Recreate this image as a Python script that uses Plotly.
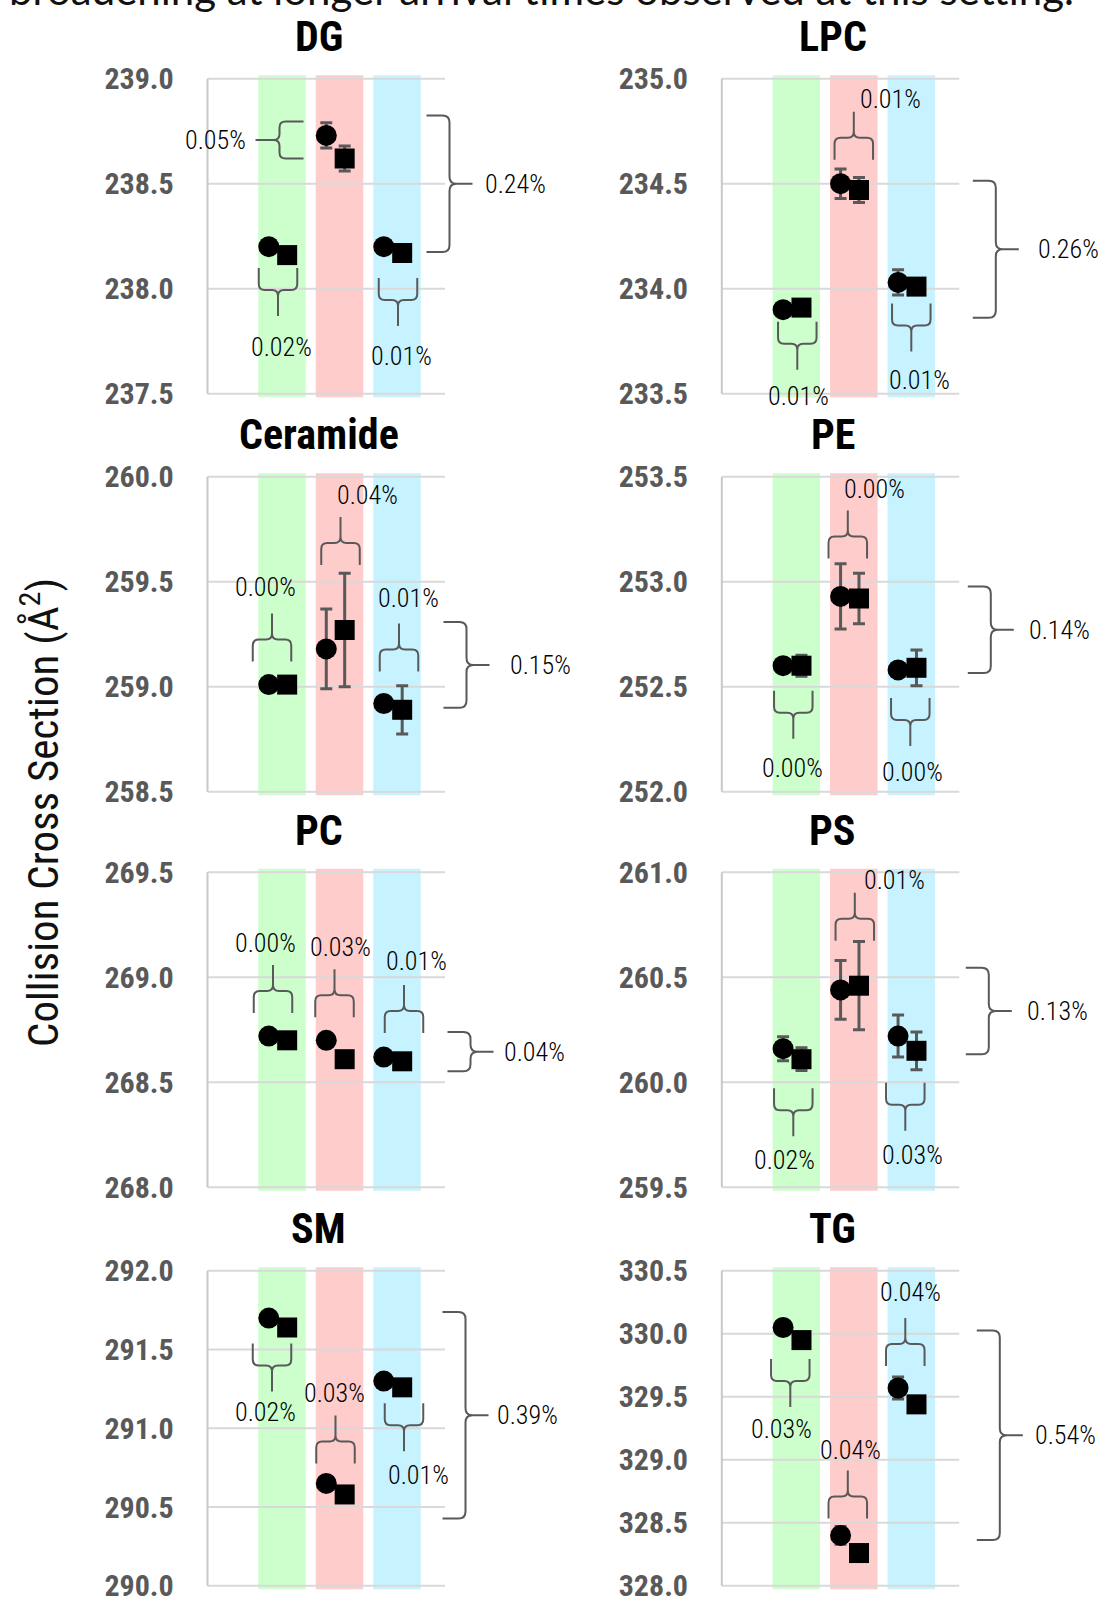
import plotly.graph_objects as go

# ---------------------------------------------------------------- data ---
lipid_classes = ["DG", "LPC", "Ceramide", "PE", "PC", "PS", "SM", "TG"]
axis_min = [237.5, 233.5, 258.5, 252.0, 268.0, 259.5, 290.0, 328.0]
axis_max = [239.0, 235.0, 260.0, 253.5, 269.5, 261.0, 292.0, 330.5]

# mean CCS per setting (green, red, blue) for the two replicate series
ccs_circle = [
    [238.20, 238.73, 238.20],
    [233.90, 234.50, 234.03],
    [259.01, 259.18, 258.92],
    [252.60, 252.93, 252.58],
    [268.72, 268.70, 268.62],
    [260.16, 260.44, 260.22],
    [291.70, 290.65, 291.30],
    [330.05, 328.40, 329.57],
]
ccs_square = [
    [238.16, 238.62, 238.17],
    [233.91, 234.47, 234.01],
    [259.01, 259.27, 258.89],
    [252.60, 252.92, 252.59],
    [268.70, 268.61, 268.60],
    [260.11, 260.46, 260.15],
    [291.64, 290.58, 291.26],
    [329.95, 328.26, 329.44],
]
sd_circle = [
    [0.02, 0.06, 0.02],
    [0.02, 0.07, 0.06],
    [0.02, 0.19, 0.03],
    [0.02, 0.155, 0.02],
    [0.01, 0.01, 0.01],
    [0.057, 0.14, 0.10],
    [0.02, 0.02, 0.02],
    [0.03, 0.07, 0.087],
]
sd_square = [
    [0.02, 0.06, 0.02],
    [0.02, 0.06, 0.03],
    [0.02, 0.27, 0.115],
    [0.05, 0.12, 0.085],
    [0.01, 0.01, 0.01],
    [0.054, 0.21, 0.09],
    [0.02, 0.02, 0.02],
    [0.03, 0.03, 0.03],
]
# relative difference between the two series within each setting
pair_rsd = [
    ["0.02%", "0.05%", "0.01%"],
    ["0.01%", "0.01%", "0.01%"],
    ["0.00%", "0.04%", "0.01%"],
    ["0.00%", "0.00%", "0.00%"],
    ["0.00%", "0.03%", "0.01%"],
    ["0.02%", "0.01%", "0.03%"],
    ["0.02%", "0.03%", "0.01%"],
    ["0.03%", "0.04%", "0.04%"],
]
# spread across all three settings
overall_rsd = ["0.24%", "0.26%", "0.15%", "0.14%", "0.04%", "0.13%", "0.39%", "0.54%"]

# ------------------------------------------------------------- layout ---
W, H = 1100, 1598
UNIT = 57.5                     # px between neighbouring settings
GRID_H = 315.0                  # px height of the gridded area
COL_SPINE = [207.5, 721.8]      # px position of the left spine per column
ROW_TOP = [78.7, 476.7, 872.3, 1270.8]
X_RANGE = [-0.5, 5.1]
X_SPINE = 1 - 74.5 / UNIT
X_GRID_END = X_SPINE + 237.5 / UNIT
Y_PAD = 0.02
BAND_HALF = 47.5 / 2 / UNIT
BAND_OVER = 3.5
MARK_DX = (-0.23, 0.09)
ARM, TIP, RAD = 22, 48, 6
BIG_ARM, BIG_TIP, BIG_RAD = 23, 46, 7
HALF_W = 19.25

BAND_COLORS = ["#CCFFCC", "#FFCCCC", "#C6F3FF"]
INK = "#595959"
GRID = "#D9D9D9"
NARROW = ("Roboto Condensed, Liberation Sans Narrow, DejaVu Sans Condensed, "
          "Arial Narrow, Roboto, sans-serif")

# placement of the per-setting braces:
# (side, gap px from marker centre, brace x shift px, label x shift px, label gap px)
pair_brace_layout = [
    [("below", 13, -4, 3, 31), ("left", 14, -36, 0, 8), ("below", 25, 1, 3, 30)],
    [("below", 12, 1, 1, 26), ("above", 24, 0, 37, 13), ("below", 17, 0, 8, 28)],
    [("above", 23, -10, -7, 27), ("above", 65, 1, 27, 22), ("above", 32, 2, 9, 25)],
    [("below", 25, -3, -1, 29), ("above", 38, -6, 27, 21), ("below", 28, -1, 2, 26)],
    [("above", 23, -9, -8, 22), ("above", 23, -5, 6, 22), ("above", 24, 7, 12, 24)],
    [("below", 29, -3, -9, 24), ("above", 45, 1, 40, 13), ("below", 32, -6, 7, 24)],
    [("below", 16, -10, -7, 20), ("above", 20, -4, -1, 22), ("below", 16, 7, 14, 24)],
    [("below", 19, -6, -9, 22), ("above", 17, -6, 3, 20), ("above", 22, -6, 5, 26)],
]
# overall brace: (arm x px from spine, label x px from spine, pad above px, pad below px)
overall_brace_layout = [
    (219, 275, 20, -3),
    (251, 314, 3, 8),
    (236, 300, 8, -2),
    (246, 305, 10, 3),
    (240, 294, 4, 10),
    (244, 303, 18, -5),
    (235, 287, 6, 24),
    (255, 311, -3, -13),
]


def brace_path(u0, u1, va, vs, vt, to_data, r):
    s = 1 if vs > va else -1
    um = (u0 + u1) / 2
    seq = [
        ("M", (u0, va)),
        ("L", (u0, vs - s * r)),
        ("Q", (u0, vs), (u0 + r, vs)),
        ("L", (um - r, vs)),
        ("Q", (um, vs), (um, vs + s * r)),
        ("L", (um, vt)),
        ("M", (um, vs + s * r)),
        ("Q", (um, vs), (um + r, vs)),
        ("L", (u1 - r, vs)),
        ("Q", (u1, vs), (u1, vs - s * r)),
        ("L", (u1, va)),
    ]
    out = []
    for cmd, *pts in seq:
        out.append(cmd + " ".join("%.6f,%.6f" % to_data(u, v) for u, v in pts))
    return " ".join(out)


fig = go.Figure()
shapes, annotations = [], []
label_font = dict(family=NARROW, size=26, color="#000000", weight=300)

for k, name in enumerate(lipid_classes):
    row, col = divmod(k, 2)
    n = "" if k == 0 else str(k + 1)
    xr, yr = "x" + n, "y" + n
    lo, hi = axis_min[k], axis_max[k]
    span = hi - lo
    ypp = span / GRID_H  # data units per px

    left_px = COL_SPINE[col] - (X_SPINE - X_RANGE[0]) * UNIT
    right_px = left_px + (X_RANGE[1] - X_RANGE[0]) * UNIT
    top_px = ROW_TOP[row] - Y_PAD * GRID_H
    bot_px = ROW_TOP[row] + GRID_H + Y_PAD * GRID_H

    ticks = []
    v = lo
    while v <= hi + 1e-9:
        ticks.append(round(v, 2))
        v += 0.5

    fig.update_layout({
        "xaxis" + n: dict(domain=[left_px / W, right_px / W], range=X_RANGE,
                          visible=False, fixedrange=True, anchor=yr, automargin=False),
        "yaxis" + n: dict(domain=[1 - bot_px / H, 1 - top_px / H],
                          range=[lo - Y_PAD * span, hi + Y_PAD * span],
                          anchor=xr, showgrid=False, zeroline=False, showline=False,
                          tickvals=ticks, ticktext=["%.1f" % t for t in ticks],
                          ticks="", ticklabelstandoff=21, automargin=False,
                          ticklabeloverflow="allow",
                          tickfont=dict(family=NARROW, size=30, color=INK, weight="bold"),
                          fixedrange=True),
    })

    # setting bands
    for i in range(3):
        shapes.append(dict(type="rect", xref=xr, yref=yr, layer="below",
                           x0=i + 1 - BAND_HALF, x1=i + 1 + BAND_HALF,
                           y0=lo - BAND_OVER * ypp, y1=hi + BAND_OVER * ypp,
                           fillcolor=BAND_COLORS[i], line=dict(width=0)))
    # gridlines and spine
    for t in ticks:
        shapes.append(dict(type="line", xref=xr, yref=yr, layer="below",
                           x0=X_SPINE, x1=X_GRID_END, y0=t, y1=t,
                           line=dict(color=GRID, width=2)))
    shapes.append(dict(type="line", xref=xr, yref=yr, layer="below",
                       x0=X_SPINE, x1=X_SPINE, y0=lo, y1=hi,
                       line=dict(color="#C8C8C8", width=2)))

    # markers
    xs = [1, 2, 3]
    fig.add_trace(go.Scatter(
        x=[x + MARK_DX[0] for x in xs], y=ccs_circle[k], xaxis=xr, yaxis=yr,
        mode="markers", cliponaxis=False, showlegend=False,
        marker=dict(symbol="circle", size=21, color="#000000"),
        error_y=dict(type="data", array=sd_circle[k], color=INK, thickness=3, width=6)))
    fig.add_trace(go.Scatter(
        x=[x + MARK_DX[1] for x in xs], y=ccs_square[k], xaxis=xr, yaxis=yr,
        mode="markers", cliponaxis=False, showlegend=False,
        marker=dict(symbol="square", size=20, color="#000000"),
        error_y=dict(type="data", array=sd_square[k], color=INK, thickness=3, width=6)))

    # per-setting braces
    for i in range(3):
        side, gap, bdx, ldx, lgap = pair_brace_layout[k][i]
        pair = [ccs_circle[k][i], ccs_square[k][i]]
        cx = i + 1
        if side in ("below", "above"):
            sgn = 1 if side == "below" else -1
            oy = min(pair) if side == "below" else max(pair)
            ox = cx + bdx / UNIT

            def to_data(u, v, ox=ox, oy=oy, ypp=ypp):
                return ox + u / UNIT, oy - v * ypp

            path = brace_path(-HALF_W, HALF_W, sgn * gap, sgn * (gap + ARM),
                              sgn * (gap + TIP), to_data, RAD)
            shapes.append(dict(type="path", xref=xr, yref=yr, layer="above", path=path,
                               line=dict(color=INK, width=2)))
            annotations.append(dict(xref=xr, yref=yr, x=ox + ldx / UNIT, y=oy,
                                    yshift=-sgn * (gap + TIP + lgap), showarrow=False,
                                    xanchor="center", yanchor="middle",
                                    text=pair_rsd[k][i], font=label_font))
        else:
            oy = max(pair)
            ox = cx
            u0 = -gap
            u1 = (max(pair) - min(pair)) / ypp

            def to_data(u, v, ox=ox, oy=oy, ypp=ypp):
                return ox + v / UNIT, oy - u * ypp

            path = brace_path(u0, u1, bdx, bdx - ARM - 2, bdx - TIP, to_data, RAD)
            shapes.append(dict(type="path", xref=xr, yref=yr, layer="above", path=path,
                               line=dict(color=INK, width=2)))
            annotations.append(dict(xref=xr, yref=yr, x=ox, xshift=bdx - TIP - lgap,
                                    y=oy - (u0 + u1) / 2 * ypp, showarrow=False,
                                    xanchor="right", yanchor="middle",
                                    text=pair_rsd[k][i], font=label_font))

    # overall brace on the right
    arm, lab, pad_t, pad_b = overall_brace_layout[k]
    allv = ccs_circle[k] + ccs_square[k]
    oy = max(allv)
    u0 = -pad_t
    u1 = (max(allv) - min(allv)) / ypp + pad_b

    def to_data(u, v, oy=oy, ypp=ypp):
        return X_SPINE + v / UNIT, oy - u * ypp

    path = brace_path(u0, u1, arm, arm + BIG_ARM, arm + BIG_TIP, to_data, BIG_RAD)
    shapes.append(dict(type="path", xref=xr, yref=yr, layer="above", path=path,
                       line=dict(color=INK, width=2)))
    annotations.append(dict(xref=xr, yref=yr, x=X_SPINE, xshift=lab,
                            y=oy - (u0 + u1) / 2 * ypp, showarrow=False,
                            xanchor="left", yanchor="middle",
                            text=overall_rsd[k], font=label_font))

    # panel title
    annotations.append(dict(xref="paper", yref="paper",
                            x=(COL_SPINE[col] + 111) / W, y=1 - (ROW_TOP[row] - 42) / H,
                            xanchor="center", yanchor="middle", showarrow=False,
                            text=name,
                            font=dict(family=NARROW, size=42, color="#000000", weight="bold")))

# shared axis title
annotations.append(dict(xref="paper", yref="paper", x=40 / W, y=1 - 813 / H,
                        textangle=-90, showarrow=False, xanchor="center", yanchor="middle",
                        text="Collision Cross Section (Å<sup>2</sup>)",
                        font=dict(family=NARROW, size=43, color="#111111")))

# caption line running off the top edge
annotations.append(dict(xref="paper", yref="paper", x=541 / W, y=1 - 16 / H,
                        xanchor="center", yanchor="bottom", showarrow=False,
                        text="broadening at longer arrival times observed at this setting.",
                        font=dict(family="Lato, Open Sans, sans-serif", size=42, color="#111111")))

fig.update_layout(width=W, height=H, margin=dict(l=0, r=0, t=0, b=0, autoexpand=False),
                  paper_bgcolor="#FFFFFF", plot_bgcolor="rgba(0,0,0,0)",
                  showlegend=False, shapes=shapes, annotations=annotations)

fig.write_html("out.html")
